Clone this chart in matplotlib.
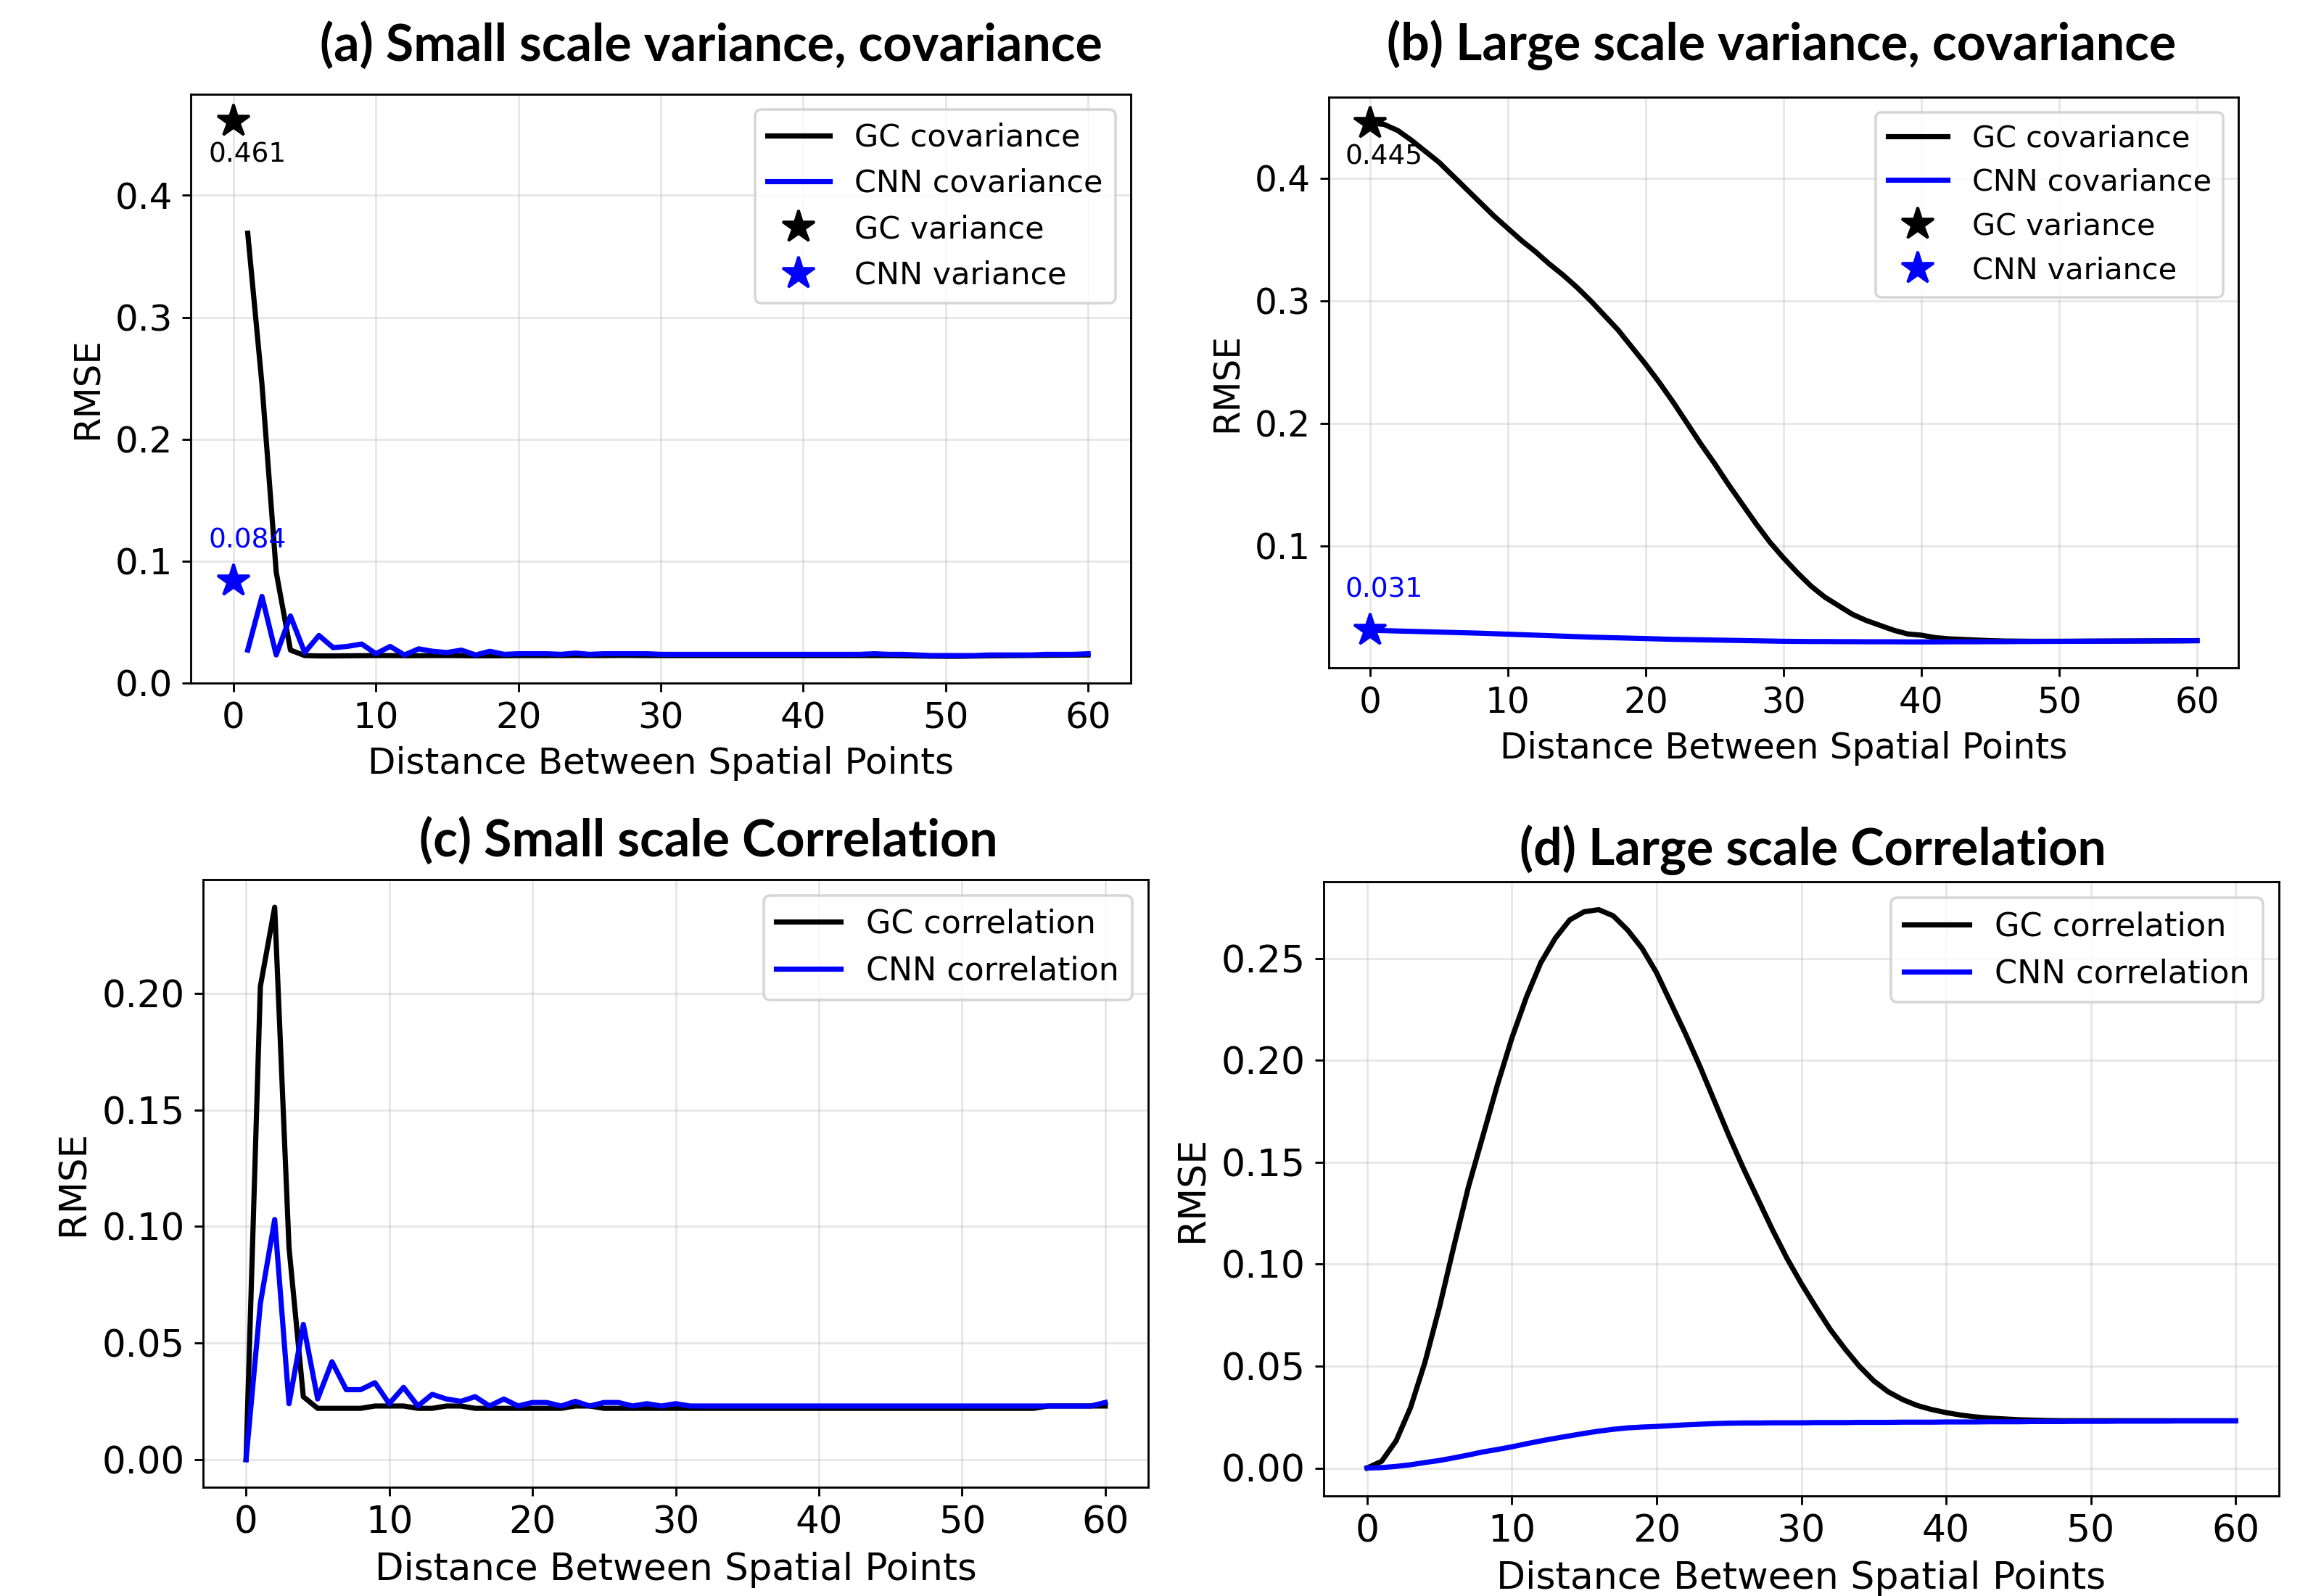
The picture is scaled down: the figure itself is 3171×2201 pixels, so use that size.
import matplotlib
matplotlib.use('Agg')
import matplotlib.pyplot as plt
from matplotlib import font_manager

# ---- data ----
dist_small_cov = list(range(1, 61))
dist = list(range(0, 61))

gc_cov_small = [0.369, 0.245, 0.091, 0.027, 0.0225, 0.0222, 0.0222, 0.0223, 0.0224, 0.0225,
                0.0225, 0.0224, 0.0224, 0.0225, 0.0225, 0.0224, 0.0223, 0.0223, 0.0224, 0.0225,
                0.0225, 0.0225, 0.0225, 0.0226, 0.0225, 0.0225, 0.0226, 0.0226, 0.0225, 0.0225,
                0.0225, 0.0225, 0.0225, 0.0225, 0.0225, 0.0225, 0.0225, 0.0225, 0.0225, 0.0225,
                0.0225, 0.0225, 0.0225, 0.0225, 0.0225, 0.0225, 0.0224, 0.0222, 0.0220, 0.0219,
                0.0219, 0.0221, 0.0223, 0.0224, 0.0225, 0.0226, 0.0227, 0.0228, 0.0229, 0.0230]
cnn_cov_small = [0.027, 0.071, 0.023, 0.055, 0.025, 0.039, 0.029, 0.030, 0.032, 0.024,
                 0.030, 0.023, 0.028, 0.026, 0.025, 0.027, 0.023, 0.026, 0.0235, 0.024,
                 0.024, 0.024, 0.0235, 0.0245, 0.0235, 0.024, 0.024, 0.024, 0.024, 0.0235,
                 0.0235, 0.0235, 0.0235, 0.0235, 0.0235, 0.0235, 0.0235, 0.0235, 0.0235, 0.0235,
                 0.0235, 0.0235, 0.0235, 0.0235, 0.024, 0.0235, 0.0235, 0.023, 0.0225, 0.0225,
                 0.0225, 0.0225, 0.023, 0.023, 0.023, 0.023, 0.0235, 0.0235, 0.0235, 0.024]
gc_var_small = 0.461
cnn_var_small = 0.084

gc_cov_large = [0.445, 0.444, 0.439, 0.431, 0.422, 0.413, 0.402, 0.391, 0.380, 0.369,
                0.359, 0.349, 0.340, 0.330, 0.321, 0.311, 0.300, 0.288, 0.276, 0.262,
                0.248, 0.233, 0.217, 0.200, 0.183, 0.167, 0.150, 0.134, 0.118, 0.103,
                0.090, 0.078, 0.067, 0.058, 0.051, 0.044, 0.039, 0.035, 0.031, 0.028,
                0.027, 0.025, 0.024, 0.0235, 0.023, 0.0225, 0.0222, 0.0221, 0.0220, 0.0220,
                0.0220, 0.0220, 0.0221, 0.0221, 0.0222, 0.0222, 0.0223, 0.0223, 0.0224, 0.0224,
                0.0225]
cnn_cov_large = [0.031, 0.0307, 0.0304, 0.0301, 0.0298, 0.0295, 0.0292, 0.0289, 0.0286, 0.0282,
                 0.0278, 0.0274, 0.0270, 0.0266, 0.0262, 0.0258, 0.0254, 0.0251, 0.0248, 0.0245,
                 0.0242, 0.0239, 0.0236, 0.0234, 0.0232, 0.0230, 0.0228, 0.0226, 0.0224, 0.0222,
                 0.0220, 0.0219, 0.0218, 0.0218, 0.0217, 0.0217, 0.0216, 0.0216, 0.0216, 0.0215,
                 0.0215, 0.0215, 0.0216, 0.0216, 0.0216, 0.0217, 0.0217, 0.0218, 0.0218, 0.0219,
                 0.0219, 0.0220, 0.0220, 0.0221, 0.0221, 0.0222, 0.0222, 0.0223, 0.0223, 0.0224,
                 0.0225]
gc_var_large = 0.445
cnn_var_large = 0.031

gc_corr_small = [0.0, 0.203, 0.237, 0.091, 0.027, 0.022, 0.022, 0.022, 0.022, 0.023,
                 0.023, 0.023, 0.022, 0.022, 0.023, 0.023, 0.022, 0.022, 0.022, 0.022,
                 0.022, 0.022, 0.022, 0.023, 0.023, 0.022, 0.022, 0.022, 0.022, 0.022,
                 0.022, 0.022, 0.022, 0.022, 0.022, 0.022, 0.022, 0.022, 0.022, 0.022,
                 0.022, 0.022, 0.022, 0.022, 0.022, 0.022, 0.022, 0.022, 0.022, 0.022,
                 0.022, 0.022, 0.022, 0.022, 0.022, 0.022, 0.023, 0.023, 0.023, 0.023,
                 0.023]
cnn_corr_small = [0.0, 0.067, 0.103, 0.024, 0.058, 0.026, 0.042, 0.030, 0.030, 0.033,
                  0.024, 0.031, 0.023, 0.028, 0.026, 0.025, 0.027, 0.023, 0.026, 0.023,
                  0.0245, 0.0245, 0.023, 0.025, 0.023, 0.0245, 0.0245, 0.023, 0.024, 0.023,
                  0.024, 0.023, 0.023, 0.023, 0.023, 0.023, 0.023, 0.023, 0.023, 0.023,
                  0.023, 0.023, 0.023, 0.023, 0.023, 0.023, 0.023, 0.023, 0.023, 0.023,
                  0.023, 0.023, 0.023, 0.023, 0.023, 0.023, 0.023, 0.023, 0.023, 0.023,
                  0.0245]

gc_corr_large = [0.0, 0.0033, 0.0133, 0.0297, 0.052, 0.079, 0.109, 0.138, 0.163, 0.188,
                 0.211, 0.231, 0.248, 0.260, 0.269, 0.273, 0.274, 0.271, 0.264, 0.255,
                 0.243, 0.228, 0.213, 0.197, 0.180, 0.163, 0.147, 0.132, 0.117, 0.103,
                 0.0905, 0.079, 0.068, 0.0586, 0.050, 0.0428, 0.0374, 0.0336, 0.0307, 0.0287,
                 0.0272, 0.026, 0.0251, 0.0245, 0.0241, 0.0237, 0.0235, 0.0233, 0.0232, 0.0232,
                 0.0232, 0.0232, 0.0232, 0.0232, 0.0232, 0.0232, 0.0232, 0.0232, 0.0232, 0.0232,
                 0.0232]
cnn_corr_large = [0.0, 0.0002, 0.0008, 0.0016, 0.0027, 0.0037, 0.005, 0.0064, 0.0079, 0.0091,
                  0.0104, 0.0119, 0.0133, 0.0146, 0.0158, 0.0170, 0.0181, 0.0190, 0.0197, 0.0201,
                  0.0204, 0.0208, 0.0212, 0.0215, 0.0218, 0.0220, 0.0221, 0.0221, 0.0222, 0.0222,
                  0.0222, 0.0223, 0.0223, 0.0223, 0.0224, 0.0224, 0.0224, 0.0225, 0.0225, 0.0225,
                  0.0226, 0.0226, 0.0226, 0.0227, 0.0227, 0.0227, 0.0228, 0.0228, 0.0228, 0.0229,
                  0.0229, 0.0229, 0.0230, 0.0230, 0.0230, 0.0230, 0.0231, 0.0231, 0.0231, 0.0231,
                  0.0231]

titles = ['(a) Small scale variance, covariance', '(b) Large scale variance, covariance',
          '(c) Small scale Correlation', '(d) Large scale Correlation']
xlabel = 'Distance Between Spatial Points'
ylabel = 'RMSE'

# ---- figure ----
W, H, DPI = 3171, 2201, 257
fig = plt.figure(figsize=(W / DPI, H / DPI), dpi=DPI)
LW = 2.0


def box(l, r, t, b):
    return [l / W, 1 - b / H, (r - l) / W, (b - t) / H]


def style(ax, fs=14, legfs=12):
    ax.grid(True, alpha=0.3)
    ax.tick_params(labelsize=fs)
    ax.set_xlabel(xlabel, fontsize=fs)
    ax.set_ylabel(ylabel, fontsize=fs)
    ax.legend(loc='upper right', fontsize=legfs)


def var_labels(ax, gc_v, cnn_v):
    ax.annotate(f'{gc_v:.3f}', (0, gc_v), xytext=(5.3, -12.9), textcoords='offset points',
                ha='center', va='center', fontsize=10.5, color='k')
    ax.annotate(f'{cnn_v:.3f}', (0, cnn_v), xytext=(5.3, 15.7), textcoords='offset points',
                ha='center', va='center', fontsize=10.5, color='b')


# (a)
ax1 = fig.add_axes(box(263, 1559, 130, 942))
ax1.plot(dist_small_cov, gc_cov_small, color='k', lw=LW, label='GC covariance')
ax1.plot(dist_small_cov, cnn_cov_small, color='b', lw=LW, label='CNN covariance')
ax1.plot(0, gc_var_small, '*', color='k', ms=13, label='GC variance')
ax1.plot(0, cnn_var_small, '*', color='b', ms=13, label='CNN variance')
var_labels(ax1, gc_var_small, cnn_var_small)
style(ax1, 14, 12)

# (b)
ax2 = fig.add_axes(box(1832, 3086, 134, 921))
ax2.plot(dist, gc_cov_large, color='k', lw=LW, label='GC covariance')
ax2.plot(dist, cnn_cov_large, color='b', lw=LW, label='CNN covariance')
ax2.plot(0, gc_var_large, '*', color='k', ms=13, label='GC variance')
ax2.plot(0, cnn_var_large, '*', color='b', ms=13, label='CNN variance')
var_labels(ax2, gc_var_large, cnn_var_large)
style(ax2, 13.6, 11.6)

# (c)
ax3 = fig.add_axes(box(280, 1583, 1213, 2051))
ax3.plot(dist, gc_corr_small, color='k', lw=LW, label='GC correlation')
ax3.plot(dist, cnn_corr_small, color='b', lw=LW, label='CNN correlation')
style(ax3, 14.4, 12.4)

# (d)
ax4 = fig.add_axes(box(1825, 3142, 1216, 2063))
ax4.plot(dist, gc_corr_large, color='k', lw=LW, label='GC correlation')
ax4.plot(dist, cnn_corr_large, color='b', lw=LW, label='CNN correlation')
style(ax4, 14.6, 12.5)

# titles: narrow bold face, sized to the width seen in the picture
title_font = 'DejaVu Sans'
for name in ['Liberation Sans Narrow', 'DejaVu Sans Condensed', 'Lato']:
    try:
        font_manager.findfont(font_manager.FontProperties(family=name, weight='bold'),
                              fallback_to_default=False)
        title_font = name
        break
    except Exception:
        pass

title_pos = [(980, 62), (2456, 62), (977, 1159), (2499, 1172)]
renderer = fig.canvas.get_renderer()
probe = fig.text(0, 0, titles[0], fontsize=20, family=title_font, weight='bold')
tw = probe.get_window_extent(renderer).width
probe.remove()
title_size = 20 * 1079 / tw

for t, (cx, cy) in zip(titles, title_pos):
    fig.text(cx / W, 1 - cy / H, t, ha='center', va='center', fontsize=title_size,
             family=title_font, weight='bold')

fig.savefig('out.png', dpi=DPI)
